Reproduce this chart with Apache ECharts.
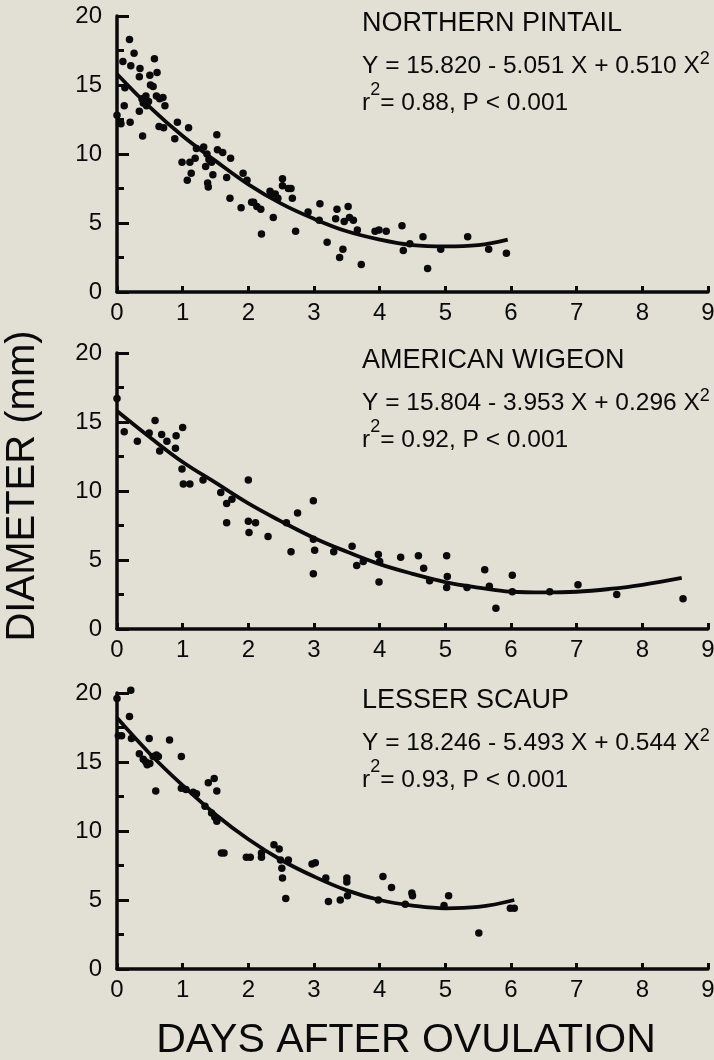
<!DOCTYPE html>
<html>
<head>
<meta charset="utf-8">
<script src="https://cdn.jsdelivr.net/npm/echarts@6/dist/echarts.min.js"></script>
<style>
html,body{margin:0;padding:0;background:#e2e0d5;}
#c{width:714px;height:1060px;}
</style>
</head>
<body>
<div id="c"></div>
<script>
// ---- Data ----
const xTicks = [0,1,2,3,4,5,6,7,8,9];
const yTicks = [0,5,10,15,20];

const panelNames = ['NORTHERN PINTAIL', 'AMERICAN WIGEON', 'LESSER SCAUP'];
const equations = ['Y = 15.820 - 5.051 X + 0.510 X', 'Y = 15.804 - 3.953 X + 0.296 X', 'Y = 18.246 - 5.493 X + 0.544 X'];
const rSquared = ['0.88', '0.92', '0.93'];

const pintailPoints = [
  [0.0,12.8],[0.06,12.2],[0.09,16.7],[0.11,13.5],[0.12,14.8],[0.19,18.3],[0.20,12.3],[0.21,16.4],
  [0.26,17.3],[0.34,15.6],[0.35,16.2],[0.34,13.1],[0.39,11.3],[0.38,14.0],[0.40,13.7],[0.44,14.2],
  [0.45,13.5],[0.48,13.8],[0.50,15.7],[0.51,15.0],[0.55,14.9],[0.57,16.9],[0.61,15.9],[0.60,14.2],
  [0.64,12.0],[0.65,14.0],[0.70,14.1],[0.71,11.9],[0.73,13.5],[0.92,12.3],[0.88,11.1],[1.09,11.9],
  [0.99,9.4],[1.07,8.1],[1.11,9.4],[1.13,8.6],[1.19,9.7],[1.21,10.4],[1.32,10.5],[1.35,9.1],
  [1.37,10.0],[1.38,7.9],[1.39,7.6],[1.40,9.6],[1.46,8.5],[1.44,9.4],[1.52,11.4],[1.53,10.3],
  [1.61,10.1],[1.67,8.3],[1.72,6.8],[1.73,9.7],[1.92,8.6],[1.89,6.1],[1.98,8.1],[2.05,6.5],
  [2.08,6.5],[2.13,6.2],[2.19,6.0],[2.20,4.2],[2.33,7.3],[2.36,7.1],[2.38,5.4],[2.41,7.1],
  [2.45,6.8],[2.52,8.2],[2.52,7.7],[2.61,7.5],[2.65,7.5],[2.67,6.8],[2.72,4.4],[2.91,5.8],
  [3.09,6.4],[3.08,5.2],[3.20,3.6],[3.35,6.0],[3.33,5.3],[3.39,2.5],[3.44,3.1],[3.46,5.1],
  [3.52,6.2],[3.54,5.4],[3.60,5.2],[3.66,4.5],[3.72,2.0],[3.93,4.4],[3.99,4.5],[4.10,4.4],
  [4.34,4.8],[4.36,3.0],[4.46,3.5],[4.66,4.0],[4.73,1.7],[4.93,3.1],[5.34,4.0],[5.66,3.1],[5.93,2.8]
];
const pintailCurveX = [0,0.5,1,1.5,2,2.5,3,3.5,4,4.5,5,5.5,5.95];
const pintailCurveY = [15.8,13.4,11.3,9.5,7.8,6.4,5.3,4.4,3.8,3.4,3.3,3.4,3.8];

const wigeonPoints = [
  [0.0,16.7],[0.11,14.3],[0.31,13.6],[0.49,14.2],[0.58,15.1],[0.65,12.9],[0.68,14.1],[0.76,13.6],
  [0.90,14.0],[0.89,13.1],[1.00,14.6],[0.99,11.6],[1.01,10.5],[1.11,10.5],[1.31,10.8],[1.58,9.9],
  [1.67,9.1],[1.67,7.7],[1.75,9.4],[2.00,10.8],[2.00,7.8],[2.01,7.0],[2.11,7.7],[2.30,6.7],
  [2.58,7.7],[2.65,5.6],[2.75,8.4],[2.99,9.3],[2.99,6.5],[3.01,5.7],[2.99,4.0],[3.30,5.6],
  [3.58,6.0],[3.65,4.6],[3.75,4.9],[3.98,5.4],[3.99,3.4],[4.00,4.9],[4.32,5.2],[4.59,5.3],
  [4.67,4.4],[4.76,3.5],[5.02,5.3],[5.03,3.8],[5.02,3.0],[5.33,3.0],[5.60,4.3],[5.67,3.1],
  [5.77,1.5],[6.02,3.9],[6.02,2.7],[6.59,2.7],[7.02,3.2],[7.61,2.5],[8.62,2.2]
];
const wigeonCurveX = [0,0.5,1,1.5,2,2.5,3,3.5,4,4.5,5,5.5,6,6.5,7,7.5,8,8.6];
const wigeonCurveY = [15.8,13.9,12.1,10.6,9.1,7.8,6.6,5.6,4.7,4.0,3.4,3.0,2.7,2.65,2.7,2.9,3.2,3.7];

const scaupPoints = [
  [0.0,19.6],[0.02,16.9],[0.07,16.9],[0.21,20.2],[0.19,18.3],[0.22,16.7],[0.34,15.6],[0.40,15.2],
  [0.44,15.0],[0.46,14.8],[0.49,16.7],[0.50,14.9],[0.55,15.4],[0.60,15.5],[0.63,15.4],[0.59,12.9],
  [0.80,16.6],[0.98,15.4],[0.98,13.1],[1.05,13.0],[1.16,12.8],[1.21,12.7],[1.34,11.8],[1.39,13.5],
  [1.48,13.8],[1.52,12.9],[1.44,11.3],[1.49,11.0],[1.52,10.7],[1.59,8.4],[1.63,8.4],[1.97,8.1],
  [2.03,8.1],[2.20,8.1],[2.20,8.4],[2.39,9.0],[2.47,8.7],[2.49,7.9],[2.51,7.3],[2.52,6.6],
  [2.57,5.1],[2.61,7.9],[2.97,7.6],[3.02,7.7],[3.18,6.6],[3.22,4.9],[3.40,5.0],[3.50,6.6],
  [3.50,6.3],[3.51,5.3],[3.98,5.0],[4.05,6.7],[4.18,5.9],[4.39,4.7],[4.50,5.3],[4.49,5.5],
  [4.98,4.6],[5.05,5.3],[5.51,2.6],[5.99,4.4],[6.05,4.4]
];
const scaupCurveX = [0,0.5,1,1.5,2,2.5,3,3.5,4,4.5,5,5.5,6.05];
const scaupCurveY = [18.2,15.6,13.3,11.2,9.4,7.9,6.7,5.7,5.0,4.6,4.4,4.5,5.0];

// ---- Build chart ----
const FONT = '"Liberation Sans", Arial, Helvetica, sans-serif';
const INK = '#0a0a0a';
const gridTops = [16, 353, 693];
const gridH = 276;

const pointsSets = [pintailPoints, wigeonPoints, scaupPoints];
const curves = [
  pintailCurveX.map((x, i) => [x, pintailCurveY[i]]),
  wigeonCurveX.map((x, i) => [x, wigeonCurveY[i]]),
  scaupCurveX.map((x, i) => [x, scaupCurveY[i]])
];

const grids = [], xAxes = [], yAxes = [], series = [], graphics = [];
gridTops.forEach((top, i) => {
  grids.push({left: 117, top: top, width: 591, height: gridH, containLabel: false, outerBoundsMode: 'none'});
  xAxes.push({
    type: 'value', gridIndex: i, min: xTicks[0], max: xTicks[xTicks.length-1], interval: 1,
    axisLine: {show: true, onZero: false, lineStyle: {color: INK, width: 3.5}},
    axisTick: {show: true, inside: true, length: 6, lineStyle: {color: INK, width: 3}},
    axisLabel: {show: true, margin: 9, color: INK, fontSize: 24, fontFamily: FONT},
    splitLine: {show: false}
  });
  yAxes.push({
    type: 'value', gridIndex: i, min: yTicks[0], max: yTicks[yTicks.length-1], interval: 5,
    axisLine: {show: true, onZero: false, lineStyle: {color: INK, width: 3.5}},
    axisTick: {show: true, inside: true, length: 12, lineStyle: {color: INK, width: 3}},
    minorTick: {show: true, splitNumber: 2, length: 7, lineStyle: {color: INK, width: 3}},
    axisLabel: {show: true, margin: 15, color: INK, fontSize: 24, fontFamily: FONT},
    splitLine: {show: false}
  });
  series.push({
    type: 'scatter', xAxisIndex: i, yAxisIndex: i, data: pointsSets[i],
    symbolSize: 7.5, itemStyle: {color: INK, opacity: 1}, clip: false, silent: true
  });
  series.push({
    type: 'line', xAxisIndex: i, yAxisIndex: i, data: curves[i], smooth: 0.4,
    showSymbol: false, symbol: 'none', lineStyle: {color: INK, width: 3.8}, clip: false, silent: true
  });
  // annotations
  graphics.push({
    type: 'text', x: 362, y: top + 8,
    style: {text: panelNames[i], font: '27px ' + FONT, fill: INK, verticalAlign: 'middle', align: 'left'}
  });
  graphics.push({
    type: 'text', x: 362, y: top + 50,
    style: {
      text: equations[i] + '{sup|2}', fill: INK, verticalAlign: 'middle', align: 'left',
      fontSize: 24.5, fontFamily: FONT, lineHeight: 32,
      rich: {sup: {fontSize: 18, fontFamily: FONT, lineHeight: 18, verticalAlign: 'top', fill: INK}}
    }
  });
  graphics.push({
    type: 'text', x: 362, y: top + 87,
    style: {
      text: 'r{sup|2}= ' + rSquared[i] + ', P < 0.001', fill: INK, verticalAlign: 'middle', align: 'left',
      fontSize: 24.5, fontFamily: FONT, lineHeight: 44,
      rich: {sup: {fontSize: 18, fontFamily: FONT, lineHeight: 18, verticalAlign: 'top', fill: INK}}
    }
  });
});

graphics.push({
  type: 'text', x: 23, y: 486, rotation: Math.PI / 2,
  style: {text: 'DIAMETER (mm)', font: '40px ' + FONT, fill: INK, align: 'center', verticalAlign: 'middle'}
});
graphics.push({
  type: 'text', x: 406, y: 1041,
  style: {text: 'DAYS AFTER OVULATION', font: '41px ' + FONT, fill: INK, align: 'center', verticalAlign: 'middle'}
});

const chart = echarts.init(document.getElementById('c'), null, {renderer: 'canvas'});
chart.setOption({
  backgroundColor: '#e2e0d5',
  animation: false,
  grid: grids, xAxis: xAxes, yAxis: yAxes, series: series,
  graphic: graphics
});
</script>
</body>
</html>
